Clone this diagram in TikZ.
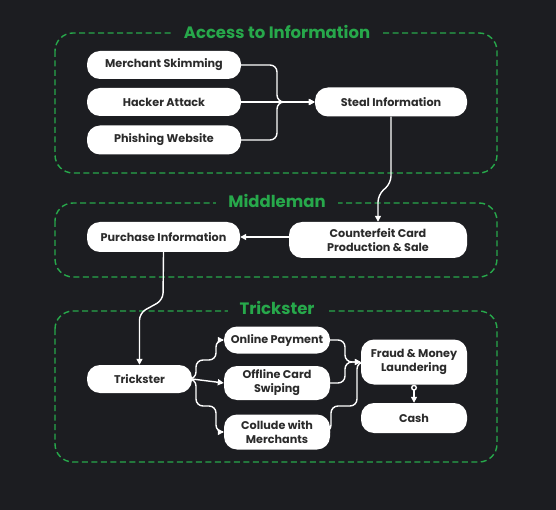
\documentclass[tikz,border=0pt]{standalone}
\usepackage{fontspec}
\setmainfont{Poppins}
\usetikzlibrary{arrows.meta}
\definecolor{bg}{HTML}{1C1D21}
\definecolor{grn}{HTML}{27A84B}
\definecolor{txt}{HTML}{2B2B2B}
\begin{document}
\begin{tikzpicture}[x=1pt,y=-1pt,
 box/.style={fill=white, rounded corners=13pt, text=txt, font=\bfseries\fontsize{11.2}{14}\selectfont, align=center, inner sep=0pt},
 grp/.style={draw=grn, dash pattern=on 6pt off 3.5pt, line width=1.4pt, rounded corners=18pt},
 gt/.style={fill=bg, text=grn, font=\bfseries\fontsize{16.5}{19}\selectfont, inner xsep=12pt, inner ysep=1pt},
 arr/.style={draw=white, line width=1.4pt, -{Triangle[length=6pt,width=6pt]}, rounded corners=7pt}]
\fill[bg] (0,0) rectangle (556,510);
\useasboundingbox (0,0) rectangle (556,510);
% groups
\draw[grp] (55,33) rectangle (497,173);
\node[gt] (g1) at (277,32) {Access to Information};
\draw[grp] (55,203) rectangle (497,277);
\node[gt] (g2) at (277,201) {Middleman};
\draw[grp] (55,311) rectangle (497,462);
\node[gt] (g3) at (277,308) {Trickster};
% nodes
\node[box, minimum width=154pt, minimum height=28pt] (ms) at (164,65) {Merchant Skimming};
\node[box, minimum width=154pt, minimum height=28pt] (ha) at (164,102) {Hacker Attack};
\node[box, minimum width=154pt, minimum height=29pt] (pw) at (164,140) {Phishing Website};
\node[box, minimum width=152pt, minimum height=29pt] (si) at (391,102) {Steal Information};
\node[box, minimum width=153pt, minimum height=30pt] (pi) at (163.5,237) {Purchase Information};
\node[box, minimum width=178pt, minimum height=36pt] (cc) at (378,240) {Counterfeit Card\\Production \& Sale};
\node[box, minimum width=105pt, minimum height=28pt] (tr) at (139.5,379) {Trickster};
\node[box, minimum width=106pt, minimum height=27pt] (op) at (277,340) {Online Payment};
\node[box, minimum width=106pt, minimum height=34pt] (oc) at (277,383) {Offline Card\\Swiping};
\node[box, minimum width=106pt, minimum height=35pt] (cm) at (277,432) {Collude with\\Merchants};
\node[box, minimum width=106pt, minimum height=45pt] (fm) at (414,362) {Fraud \& Money\\Laundering};
\node[box, minimum width=106pt, minimum height=30pt] (ca) at (414,418) {Cash};
% connectors
\draw[arr] (ms.east) -- (277,65) -- (277,102) -- (si.west);
\draw[arr] (ha.east) -- (si.west);
\draw[arr] (pw.east) -- (277,140) -- (277,102) -- (si.west);
\draw[arr] (si.south) -- (391,183) -- (378,195) -- (cc.north);
\draw[arr] (pi.east -| cc.west) -- (pi.east);
\draw[arr] (pi.south) -- (163,300) -- (139.5,313) -- (tr.north);
\draw[arr] (tr.east) -- (196,379) -- (196,360) -- (216,360) -- (216,340) -- (op.west);
\draw[arr] (tr.east) -- (oc.west);
\draw[arr] (tr.east) -- (196,379) -- (196,406) -- (216,406) -- (216,432) -- (cm.west);
\draw[arr] (op.east) -- (345,340) -- (345,362) -- (fm.west);
\draw[arr] (oc.east) -- (345,383) -- (345,362) -- (fm.west);
\draw[arr] (cm.east) -- (331,432) -- (331,406) -- (357,406) -- (357,362) -- (fm.west);
\draw[draw=white, line width=1.4pt, {Circle[open,fill=bg,length=6pt]}-{Triangle[length=6pt,width=6pt]}] (fm.south) -- (ca.north);
\end{tikzpicture}
\end{document}
